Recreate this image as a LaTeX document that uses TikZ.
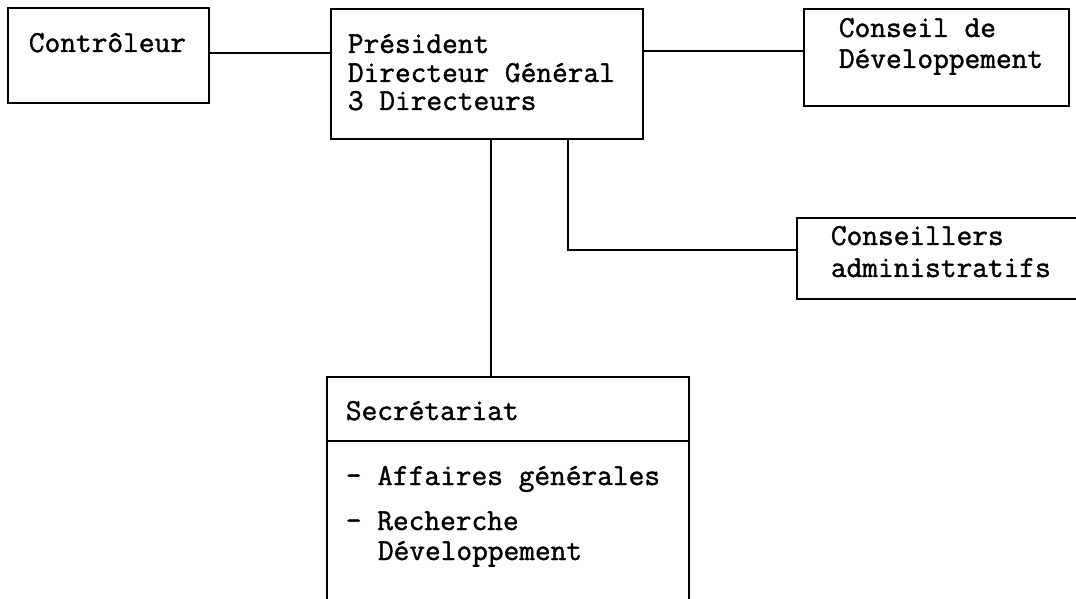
\documentclass[tikz,border=0pt]{standalone}
\usepackage{fontspec}
\newfontfamily\typew{Latin Modern Mono}[FakeBold=1.3]
\begin{document}
\begin{tikzpicture}[x=1bp,y=-1bp,
  every path/.style={line width=1.8bp},
  box/.style={draw,line width=1.8bp,inner sep=0pt,anchor=north west},
  lbl/.style={inner sep=0pt,anchor=base west,font=\typew\fontsize{30.5bp}{32bp}\selectfont},
  link/.style={draw,line width=1.8bp}]
\useasboundingbox (0,0) rectangle (1076,599);
% boxes
\node[box,minimum width=201bp,minimum height=95bp] (ctrl) at (7,7) {};
\node[box,minimum width=312bp,minimum height=130bp] (pres) at (330,8) {};
\node[box,minimum width=265bp,minimum height=97bp] (cons) at (803,8) {};
% open boxes
\draw (1076,218) -- (797,218) -- (797,299) -- (1076,299);
\coordinate (cadm) at (797,250);
\draw (327,599) -- (327,377) -- (689,377) -- (689,599);
\draw (327,441) -- (689,441);
\coordinate (sectop) at (491,377);
% texts
\node[lbl] (t1) at (28,52) {Contrôleur};
\node[lbl] (t2) at (347,53) {Président};
\node[lbl] (t3) at (347,82) {Directeur Général};
\node[lbl] (t4) at (347,110) {3 Directeurs};
\node[lbl] (t5) at (838,37) {Conseil de};
\node[lbl] (t6) at (838,68) {Développement};
\node[lbl] (t7) at (830,245) {Conseillers};
\node[lbl] (t8) at (830,277) {administratifs};
\node[lbl] (t9) at (345,420) {Secrétariat};
\node[lbl] (t10) at (345,485) {- Affaires générales};
\node[lbl] (t11) at (345,530) {- Recherche};
\node[lbl] (t12) at (377,560) {Développement};
% connectors
\draw[link] ([yshift=2.5bp]ctrl.east) -- ([yshift=2.5bp]pres.west |- ctrl.east);
\draw[link] ([yshift=6.5bp]cons.west) -- ([yshift=6.5bp]pres.east |- cons.west);
\draw[link] (pres.south -| sectop) -- (sectop);
\draw[link] (pres.south -| 568,0) -- (568,250) -- (cadm);
\end{tikzpicture}
\end{document}
